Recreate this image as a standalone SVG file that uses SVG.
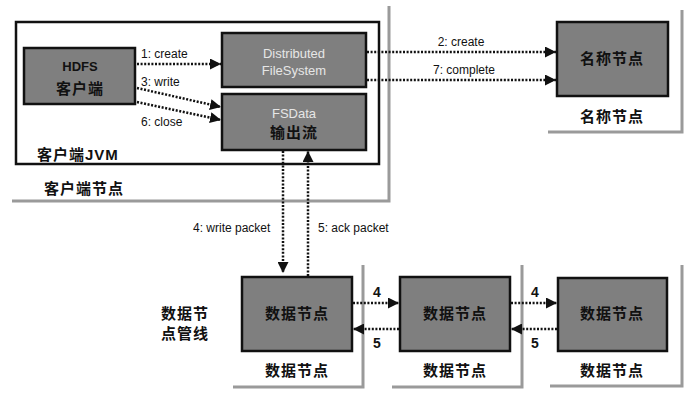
<svg xmlns="http://www.w3.org/2000/svg" width="692" height="404" viewBox="0 0 692 404">
<style>
.frame{fill:none;stroke:#9a9a9a;stroke-width:3}
.box{fill:#7f7f7f;stroke:#111;stroke-width:2.5}
.jvm{fill:none;stroke:#111;stroke-width:2.5}
.dl{fill:none;stroke:#111;stroke-width:2.5;stroke-dasharray:2 1.6}
.lbl{font-family:"Liberation Sans",Arial,sans-serif;font-size:12px;fill:#111}
.num{font-family:"Liberation Sans",Arial,sans-serif;font-size:14px;font-weight:bold;fill:#111}
.en{font-family:"Liberation Sans",Arial,sans-serif;font-size:13px;text-anchor:middle}
.cn{font-family:"Liberation Sans","Noto Sans CJK SC",sans-serif;font-size:15px;font-weight:bold;fill:#111;letter-spacing:1px}
.mid{text-anchor:middle}
.light{fill:#e6e6e6}
.dark{fill:#111;font-weight:bold}
</style>
<defs>
<marker id="ah" viewBox="0 0 10 10" refX="10" refY="5" markerWidth="4.4" markerHeight="4.4" markerUnits="strokeWidth" orient="auto">
<path d="M0,0 L10,5 L0,10 Z" fill="#111"/>
</marker>
</defs>
<rect width="692" height="404" fill="#ffffff"/>

<g id="client-node">
<polyline class="frame" points="12,201 389,201 389,6"/>
<rect class="jvm" x="16" y="22" width="363" height="142"/>
<text class="cn" x="37" y="160">客户端JVM</text>
<text class="cn" x="44" y="194">客户端节点</text>
</g>

<g id="hdfs-client">
<rect class="box" x="24" y="48" width="111" height="56"/>
<text class="en dark" x="80" y="71">HDFS</text>
<text class="cn mid" x="80" y="94">客户端</text>
</g>

<g id="dfs">
<rect class="box" x="222" y="33" width="144" height="54"/>
<text class="en light" x="294" y="58">Distributed</text>
<text class="en light" x="294" y="75">FileSystem</text>
</g>

<g id="fsdata">
<rect class="box" x="222" y="94" width="144" height="56"/>
<text class="en light" x="294" y="118">FSData</text>
<text class="cn mid" x="294" y="138">输出流</text>
</g>

<g id="namenode">
<polyline class="frame" points="548,132 682,132 682,10"/>
<rect class="box" x="557" y="22" width="111" height="74"/>
<text class="cn mid" x="612" y="64">名称节点</text>
<text class="cn mid" x="612" y="122">名称节点</text>
</g>

<g id="datanode1">
<polyline class="frame" points="233,387 363,387 363,265"/>
<rect class="box" x="242" y="277" width="110" height="74"/>
<text class="cn mid" x="297" y="319">数据节点</text>
<text class="cn mid" x="297" y="376">数据节点</text>
</g>

<g id="datanode2">
<polyline class="frame" points="392,387 522,387 522,265"/>
<rect class="box" x="400" y="277" width="110" height="74"/>
<text class="cn mid" x="455" y="319">数据节点</text>
<text class="cn mid" x="455" y="376">数据节点</text>
</g>

<g id="datanode3">
<polyline class="frame" points="550,386 682,386 682,265"/>
<rect class="box" x="558" y="278" width="109" height="73"/>
<text class="cn mid" x="612" y="319">数据节点</text>
<text class="cn mid" x="612" y="376">数据节点</text>
</g>

<g id="pipeline-label">
<text class="cn" x="161" y="319">数据节</text>
<text class="cn" x="161" y="339">点管线</text>
</g>

<g id="connectors">
<line class="dl" x1="137" y1="64" x2="221" y2="64" marker-end="url(#ah)"/>
<line class="dl" x1="137" y1="88" x2="221" y2="107" marker-end="url(#ah)"/>
<line class="dl" x1="137" y1="102" x2="221" y2="120" marker-end="url(#ah)"/>
<line class="dl" x1="367" y1="52" x2="556" y2="52" marker-end="url(#ah)"/>
<line class="dl" x1="367" y1="80" x2="556" y2="80" marker-end="url(#ah)"/>
<line class="dl" x1="283" y1="151" x2="283" y2="273" marker-end="url(#ah)"/>
<line class="dl" x1="308" y1="276" x2="308" y2="151" marker-end="url(#ah)"/>
<line class="dl" x1="353" y1="303" x2="399" y2="303" marker-end="url(#ah)"/>
<line class="dl" x1="399" y1="329" x2="353" y2="329" marker-end="url(#ah)"/>
<line class="dl" x1="511" y1="303" x2="557" y2="303" marker-end="url(#ah)"/>
<line class="dl" x1="557" y1="329" x2="511" y2="329" marker-end="url(#ah)"/>
<text class="lbl" x="141" y="58">1: create</text>
<text class="lbl" x="141" y="86">3: write</text>
<text class="lbl" x="141" y="126">6: close</text>
<text class="lbl mid" x="461" y="46">2: create</text>
<text class="lbl mid" x="464" y="74">7: complete</text>
<text class="lbl" x="193" y="232">4: write packet</text>
<text class="lbl" x="318" y="232">5: ack packet</text>
<text class="num" x="373" y="297">4</text>
<text class="num" x="373" y="348">5</text>
<text class="num" x="531" y="297">4</text>
<text class="num" x="531" y="348">5</text>
</g>
</svg>
